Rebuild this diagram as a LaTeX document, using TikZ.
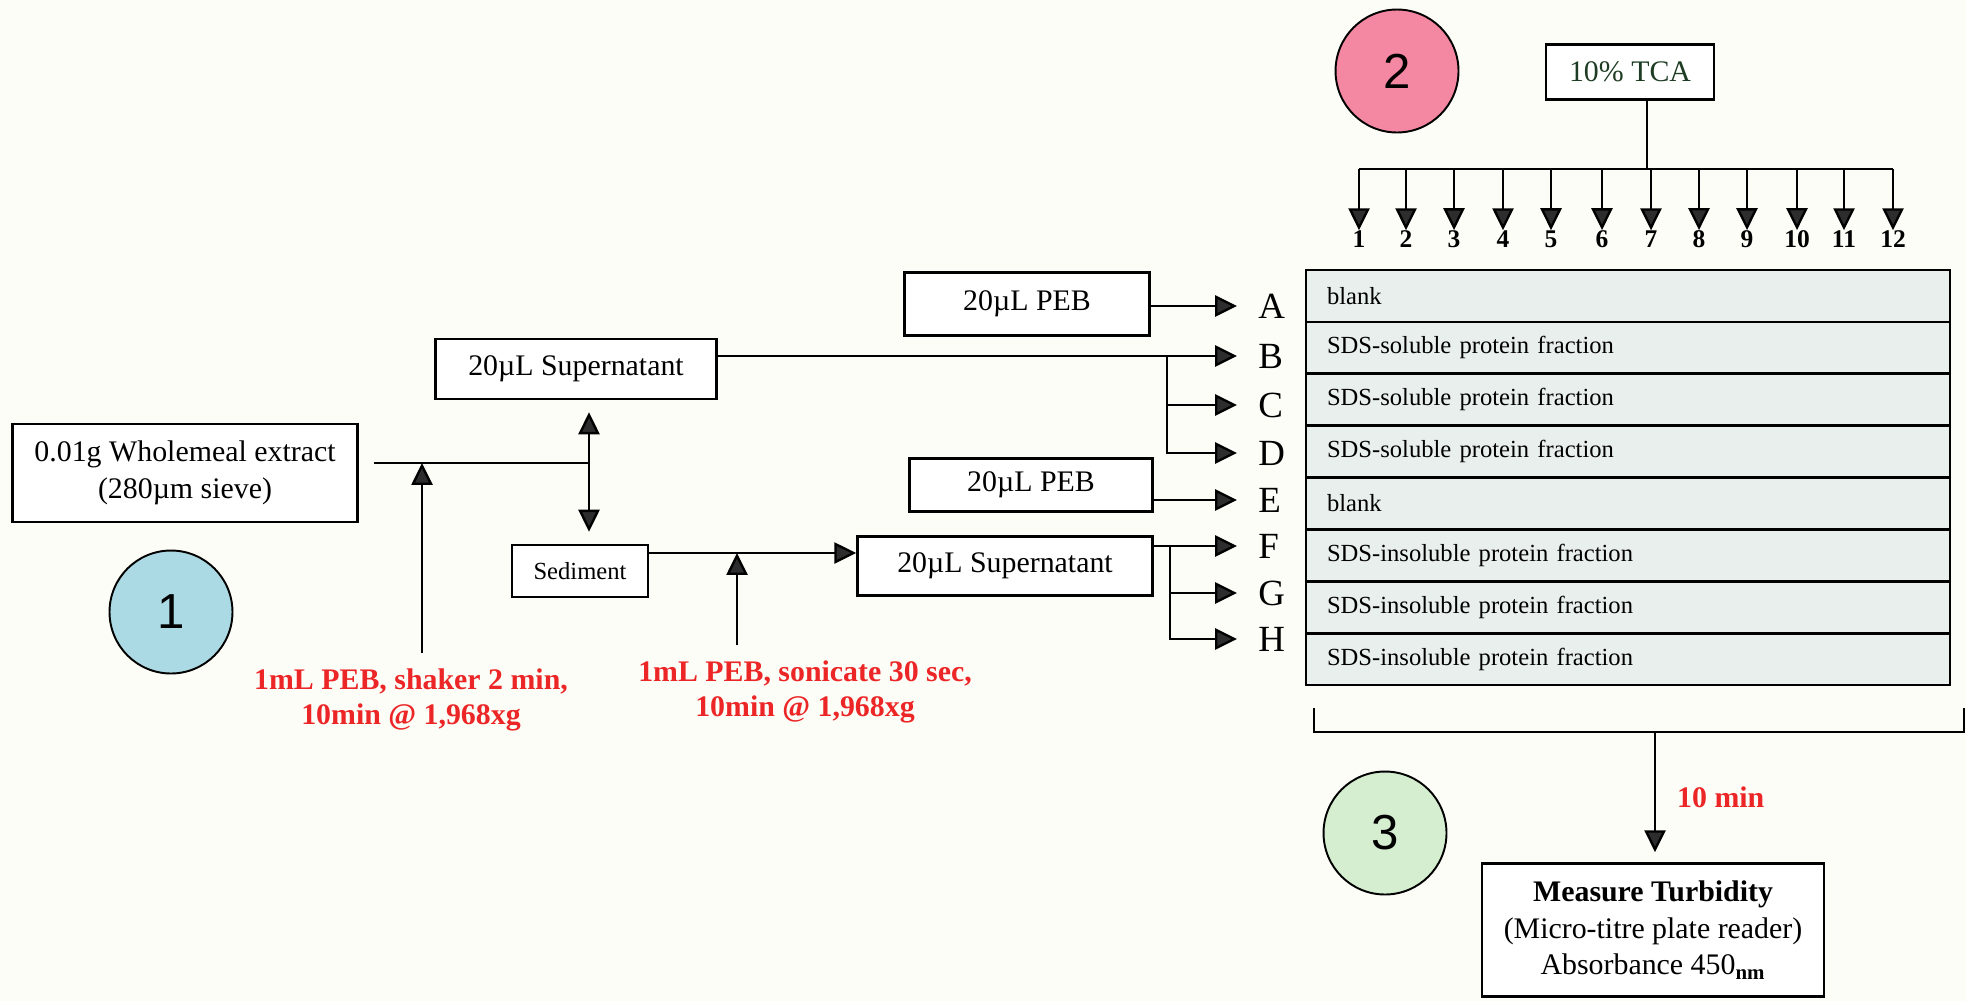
\documentclass[tikz,border=0pt]{standalone}
\usepackage{fontspec}
\setmainfont{Liberation Serif}
\newfontfamily\stagefont{Liberation Sans}
\usetikzlibrary{arrows.meta, positioning}

\definecolor{paper}{RGB}{253,253,248}
\definecolor{condred}{RGB}{236,38,38}
\definecolor{platefill}{RGB}{232,239,237}
\definecolor{tcagreen}{RGB}{30,60,35}
\definecolor{stageblue}{RGB}{172,218,228}
\definecolor{stagepink}{RGB}{244,136,162}
\definecolor{stagegreen}{RGB}{214,238,208}
\definecolor{tipgray}{RGB}{45,45,45}

\begin{document}
\begin{tikzpicture}[x=0.02cm, y=-0.02cm, node distance=0pt,
    box/.style={draw, line width=1.5pt, fill=white, align=center, inner sep=0pt, font=\fontsize{17}{21}\selectfont},
    wire/.style={line width=1.35pt},
    arr/.style={wire, -{Triangle[length=12.5pt, width=12pt, fill=tipgray]}},
    toletter/.style={arr, shorten >=0.42cm},
    letter/.style={anchor=west, inner sep=0pt, font=\fontsize{21}{24}\selectfont},
    num/.style={inner sep=0pt, font=\bfseries\fontsize{14.5}{16}\selectfont},
    cond/.style={text=condred, align=center, inner sep=0pt, font=\bfseries\fontsize{17}{20}\selectfont},
    well/.style={draw, line width=1.5pt, fill=platefill, anchor=north west, outer sep=0pt, minimum height=1.038cm, inner xsep=0.42cm, inner ysep=0pt, text width=12.04cm, align=left, font=\fontsize{14}{16}\selectfont},
    stage/.style={circle, draw, line width=1.1pt, minimum size=2.46cm, inner sep=0pt, font=\stagefont\fontsize{28}{30}\selectfont}]

    \fill[paper] (0,0) rectangle (1966,1001);
    \useasboundingbox (0,0) rectangle (1966,1001);

    % extraction
    \node[box, minimum width=6.9cm, minimum height=1.96cm] (meal) at (185,473) {0.01g Wholemeal extract\\(280µm sieve)};
    \node[box, minimum width=5.62cm, minimum height=1.2cm] (sup1) at (576,369) {20µL Supernatant};
    \node[box, font=\fontsize{14}{16}\selectfont, minimum width=2.72cm, minimum height=1.04cm] (sed) at (580,571) {Sediment};
    \node[box, minimum width=5.9cm, minimum height=1.18cm] (sup2) at (1005,566) {20µL Supernatant};
    \node[box, minimum width=4.9cm, minimum height=1.26cm] (peb1) at (1027,304) {20µL PEB};
    \node[box, minimum width=4.86cm, minimum height=1.06cm] (peb2) at (1031,485) {20µL PEB};
    \node[cond] (cond1) at (411,700) {1mL PEB, shaker 2 min,\\10min @ 1,968xg};
    \node[cond] (cond2) at (805,692) {1mL PEB, sonicate 30 sec,\\10min @ 1,968xg};

    \coordinate (j1) at (589,463);
    \coordinate (in1) at (422,463);
    \coordinate (in2) at (737,553);

    \draw[wire, shorten <=0.3cm] (j1 -| meal.east) -- (j1);
    \draw[arr, shorten >=0.24cm] (j1) -- (j1 |- sup1.south);
    \draw[arr, shorten >=0.24cm] (j1) -- (j1 |- sed.north);
    \draw[arr, shorten <=0.3cm] (cond1.north -| in1) -- (in1);
    \draw[arr] (in2 -| sed.east) -- (in2 -| sup2.west);
    \draw[arr, shorten <=0.3cm] (cond2.north -| in2) -- (in2);

    % plate rows
    \node[letter] (lA) at (1258,306) {A};
    \node[letter] (lB) at (1258,356) {B};
    \node[letter] (lC) at (1258,405) {C};
    \node[letter] (lD) at (1258,453) {D};
    \node[letter] (lE) at (1258,500) {E};
    \node[letter] (lF) at (1258,546) {F};
    \node[letter] (lG) at (1258,593) {G};
    \node[letter] (lH) at (1258,639) {H};

    \coordinate (b1) at (1167,356);
    \coordinate (b2) at (1170,546);
    \draw[toletter] (lA -| peb1.east) -- (lA);
    \draw[toletter] (lB -| sup1.east) -- (lB);
    \draw[toletter] (b1) |- (lC);
    \draw[toletter] (b1) |- (lD);
    \draw[toletter] (lE -| peb2.east) -- (lE);
    \draw[toletter] (lF -| sup2.east) -- (lF);
    \draw[toletter] (b2) |- (lG);
    \draw[toletter] (b2) |- (lH);

    \node[well] (rA) at (1306,270) {blank};
    \node[well, below=of rA] (rB) {SDS-soluble protein fraction};
    \node[well, below=of rB] (rC) {SDS-soluble protein fraction};
    \node[well, below=of rC] (rD) {SDS-soluble protein fraction};
    \node[well, below=of rD] (rE) {blank};
    \node[well, below=of rE] (rF) {SDS-insoluble protein fraction};
    \node[well, below=of rF] (rG) {SDS-insoluble protein fraction};
    \node[well, below=of rG] (rH) {SDS-insoluble protein fraction};

    % TCA to the 12 columns
    \node[box, minimum width=3.36cm, minimum height=1.1cm, text=tcagreen] (tca) at (1630,72) {10\% TCA};
    \node[num] (n1) at (1359,239) {1};
    \node[num] (n2) at (1406,239) {2};
    \node[num] (n3) at (1454,239) {3};
    \node[num] (n4) at (1503,239) {4};
    \node[num] (n5) at (1551,239) {5};
    \node[num] (n6) at (1602,239) {6};
    \node[num] (n7) at (1651,239) {7};
    \node[num] (n8) at (1699,239) {8};
    \node[num] (n9) at (1747,239) {9};
    \node[num] (n10) at (1797,239) {10};
    \node[num] (n11) at (1844,239) {11};
    \node[num] (n12) at (1893,239) {12};

    \coordinate (bus) at (1647,169);
    \draw[wire] (bus |- tca.south) -- (bus);
    \draw[wire] (n1 |- bus) -- (n12 |- bus);
    \draw[arr] (n1 |- bus) -- (n1);
    \draw[arr] (n2 |- bus) -- (n2);
    \draw[arr] (n3 |- bus) -- (n3);
    \draw[arr] (n4 |- bus) -- (n4);
    \draw[arr] (n5 |- bus) -- (n5);
    \draw[arr] (n6 |- bus) -- (n6);
    \draw[arr] (n7 |- bus) -- (n7);
    \draw[arr] (n8 |- bus) -- (n8);
    \draw[arr] (n9 |- bus) -- (n9);
    \draw[arr] (n10 |- bus) -- (n10);
    \draw[arr] (n11 |- bus) -- (n11);
    \draw[arr] (n12 |- bus) -- (n12);

    % reading
    \coordinate (brL) at (1314,708);
    \coordinate (brR) at (1964,708);
    \coordinate (brM) at (1655,732);
    \draw[wire] (brL) -- (brL |- brM) -- (brR |- brM) -- (brR);
    \node[box, minimum width=6.84cm, minimum height=2.66cm] (meas) at (1653,930) {\textbf{Measure Turbidity}\\(Micro-titre plate reader)\\Absorbance 450\textsubscript{\bfseries nm}};
    \draw[arr, shorten >=0.2cm] (brM) -- (brM |- meas.north) node[cond, midway, right=0.42cm] (wait) {10 min};

    % stage markers
    \node[stage, fill=stageblue] (s1) at (171,612) {1};
    \node[stage, fill=stagepink] (s2) at (1397,71) {2};
    \node[stage, fill=stagegreen] (s3) at (1385,833) {3};
\end{tikzpicture}
\end{document}
